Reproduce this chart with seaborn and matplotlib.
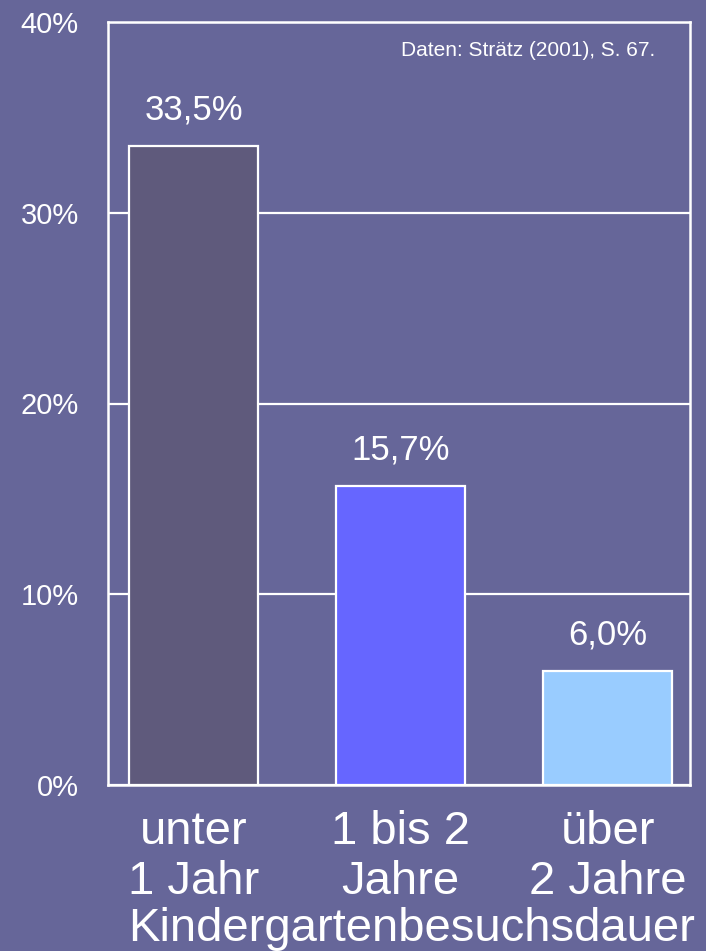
import matplotlib
matplotlib.use("Agg")
import matplotlib.pyplot as plt
import seaborn as sns
import pandas as pd
from matplotlib import font_manager

categories = ["unter\n1 Jahr", "1 bis 2\nJahre", "über\n2 Jahre"]
values = [33.5, 15.7, 6.0]
value_labels = ["33,5%", "15,7%", "6,0%"]
bar_colors = ["#5F5A7C", "#6666FF", "#99CCFF"]
yticks = [0, 10, 20, 30, 40]
ytick_labels = ["0%", "10%", "20%", "30%", "40%"]
xlabel = "Kindergartenbesuchsdauer"
source = "Daten: Strätz (2001), S. 67."

bg = "#666699"
sns.set_theme(style="white")
names = {f.name for f in font_manager.fontManager.ttflist}
fam = "Liberation Sans Narrow" if "Liberation Sans Narrow" in names else "Liberation Sans"
plt.rcParams["font.family"] = [fam, "DejaVu Sans"]

fig = plt.figure(figsize=(7.06, 9.51), dpi=100, facecolor=bg)
ax = fig.add_axes([108/706, 1-785/951, 582/706, 763/951])
ax.set_facecolor(bg)

df = pd.DataFrame({"cat": categories, "val": values})
sns.barplot(data=df, x="cat", y="val", hue="cat", palette=bar_colors,
            legend=False, width=0.623, edgecolor="white", linewidth=1.6,
            saturation=1, ax=ax, zorder=3)

ax.set_xlim(-0.413, 2.398)
ax.set_ylim(0, 40)
ax.set_yticks(yticks)
ax.set_yticklabels(ytick_labels, fontsize=21, color="white")
ax.yaxis.grid(True, color="white", linewidth=1.6, zorder=1)
ax.set_axisbelow(True)

ax.tick_params(axis="y", direction="out", length=9, width=1.6, color="white", pad=12)
ax.tick_params(axis="x", length=0, labelsize=34, labelcolor="white", pad=18)
ax.set_xticks(range(len(categories)))
ax.set_xticklabels(categories, linespacing=1.17)
ax.set_xticks([-0.413, 2.398], minor=True)
ax.tick_params(axis="x", which="minor", direction="out", length=13, width=1.6, color="white")

for s in ax.spines.values():
    s.set_color("white")
    s.set_linewidth(1.8)
    s.set_visible(True)

ax.set_xlabel(xlabel, fontsize=34, color="white", labelpad=2)
ax.xaxis.label.set_x(0.522)
ax.set_ylabel("")

for i, (v, lab) in enumerate(zip(values, value_labels)):
    ax.annotate(lab, (i, v), xytext=(0, 14), textcoords="offset points",
                ha="center", va="bottom", fontsize=25, color="white")

ax.text(0.94, 0.975, source, transform=ax.transAxes, fontsize=15,
        color="white", ha="right", va="top")

fig.savefig("out.png", dpi=100, facecolor=bg)
